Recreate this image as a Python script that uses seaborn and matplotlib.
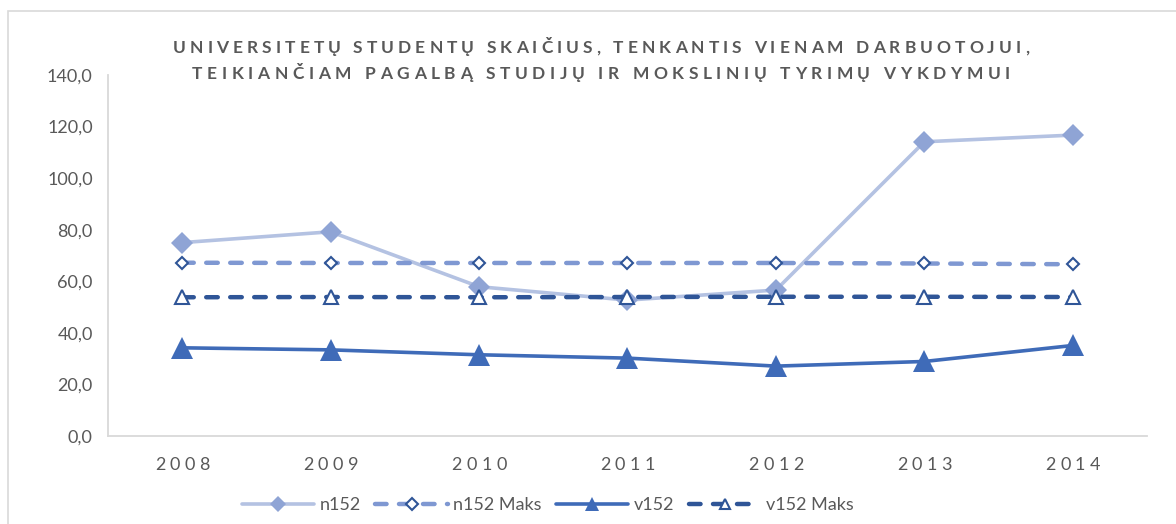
import matplotlib
matplotlib.use("Agg")
import matplotlib.pyplot as plt
import matplotlib.transforms as mtransforms
from matplotlib.font_manager import FontProperties
from matplotlib.patches import Rectangle
import pandas as pd
import seaborn as sns

years = [2008, 2009, 2010, 2011, 2012, 2013, 2014]
n152 = [75.0, 79.2, 57.9, 52.7, 56.6, 114.1, 116.7]
n152_maks = [67.2, 67.1, 67.1, 67.1, 67.1, 66.9, 66.6]
v152 = [34.2, 33.4, 31.5, 30.2, 27.1, 28.9, 35.1]
v152_maks = [53.8, 53.9, 53.8, 53.9, 54.0, 54.0, 53.9]
y_ticks = [0, 20, 40, 60, 80, 100, 120, 140]
title_lines = ["UNIVERSITETŲ STUDENTŲ SKAIČIUS, TENKANTIS VIENAM DARBUOTOJUI,",
               "TEIKIANČIAM PAGALBĄ STUDIJŲ IR MOKSLINIŲ TYRIMŲ VYKDYMUI"]

df = pd.DataFrame({"year": years, "n152": n152, "n152 Maks": n152_maks,
                   "v152": v152, "v152 Maks": v152_maks})

sns.set_theme(style="white")
plt.rcParams["font.family"] = ["Lato", "DejaVu Sans"]
gray = "#595959"
W, H = 1176, 524

fig = plt.figure(figsize=(W / 100, H / 100), dpi=100)
ax = fig.add_axes([108 / W, 1 - 436 / H, (1147 - 108) / W, (436 - 75) / H])

# series in Excel drawing order
sns.lineplot(data=df, x="year", y="n152", ax=ax, color="#B4C2E2", lw=2.6,
             marker="D", ms=11.5, mfc="#8FA4D5", mec="#8FA4D5", mew=0,
             label="n152", zorder=2)
sns.lineplot(data=df, x="year", y="n152 Maks", ax=ax, color="#7F98D2", lw=3.2,
             linestyle=(0, (2.6, 2.8)), dash_capstyle="round",
             marker="D", ms=6.5, mfc="white", mec="#2F5597", mew=1.5,
             label="n152 Maks", zorder=3)
sns.lineplot(data=df, x="year", y="v152", ax=ax, color="#3F6BB8", lw=2.6,
             marker="^", ms=16, mfc="#3F6BB8", mec="#3F6BB8", mew=0,
             label="v152", zorder=4)
sns.lineplot(data=df, x="year", y="v152 Maks", ax=ax, color="#2F5597", lw=3.2,
             linestyle=(0, (2.6, 2.8)), dash_capstyle="round",
             marker="^", ms=10, mfc="white", mec="#2F5597", mew=1.5,
             label="v152 Maks", zorder=5)

ax.set_xlim(years[0] - 0.5, years[-1] + 0.5)
ax.set_ylim(0, 140)
ax.set_yticks(y_ticks)
ax.set_yticklabels([f"{v:.1f}".replace(".", ",") for v in y_ticks],
                   color=gray, fontsize=13)
ax.tick_params(axis="y", length=0, pad=11)
ax.set_xticks(years)
ax.set_xticklabels([])
ax.tick_params(axis="x", length=0)
ax.set_xlabel("")
ax.set_ylabel("")
ax.grid(False)
for side in ["top", "right"]:
    ax.spines[side].set_visible(False)
for side in ["left", "bottom"]:
    ax.spines[side].set_color("#D9D9D9")
    ax.spines[side].set_linewidth(1.3)

renderer = fig.canvas.get_renderer()


def spaced_text(x, y, s, transform, track, fp, color):
    # draw letter-spaced text centred on (x, y); track in pixels
    def width(t):
        if not t:
            return 0.0
        w, _, _ = renderer.get_text_width_height_descent(t, fp, ismath=False)
        return w
    total = width(s) + track * (len(s) - 1)
    for i, ch in enumerate(s):
        dx = width(s[:i]) + track * i - total / 2
        tr = mtransforms.offset_copy(transform, fig=fig, x=dx * 72 / fig.dpi,
                                     y=0, units="points")
        fig.text(x, y, ch, transform=tr, ha="left", va="center",
                 fontproperties=fp, color=color)


# year labels
fp_year = FontProperties(family=["Lato", "DejaVu Sans"], size=13)
xtr = mtransforms.blended_transform_factory(ax.transData, fig.transFigure)
for yr in years:
    spaced_text(yr, 1 - 465 / H, str(yr), xtr, 4.5, fp_year, gray)

# title
fp_title = FontProperties(family=["Lato", "DejaVu Sans"], size=12.5, weight="bold")
targets = [856, 818]
for k, (line, target) in enumerate(zip(title_lines, targets)):
    nat, _, _ = renderer.get_text_width_height_descent(line, fp_title, ismath=False)
    track = (target - nat) / (len(line) - 1)
    spaced_text(601 / W, 1 - (48 + 26 * k) / H, line, fig.transFigure,
                track, fp_title, gray)

# legend
handles, labels = ax.get_legend_handles_labels()
if ax.get_legend() is not None:
    ax.get_legend().remove()
leg = fig.legend(handles, labels, loc="center", bbox_to_anchor=(548 / W, 1 - 505 / H),
                 ncol=4, frameon=False, fontsize=13, handlelength=4.0,
                 handletextpad=0.3, columnspacing=0.8, labelcolor=gray)
for h, ms in zip(leg.legend_handles, [8, 6, 10, 7.5]):
    h.set_markersize(ms)

# chart border
fig.patches.append(Rectangle((8 / W, -0.1), 1.2, 1 - 11 / H + 0.1,
                             transform=fig.transFigure, fill=False,
                             edgecolor="#D9D9D9", lw=1.2, figure=fig))

fig.savefig("out.png", dpi=100)
